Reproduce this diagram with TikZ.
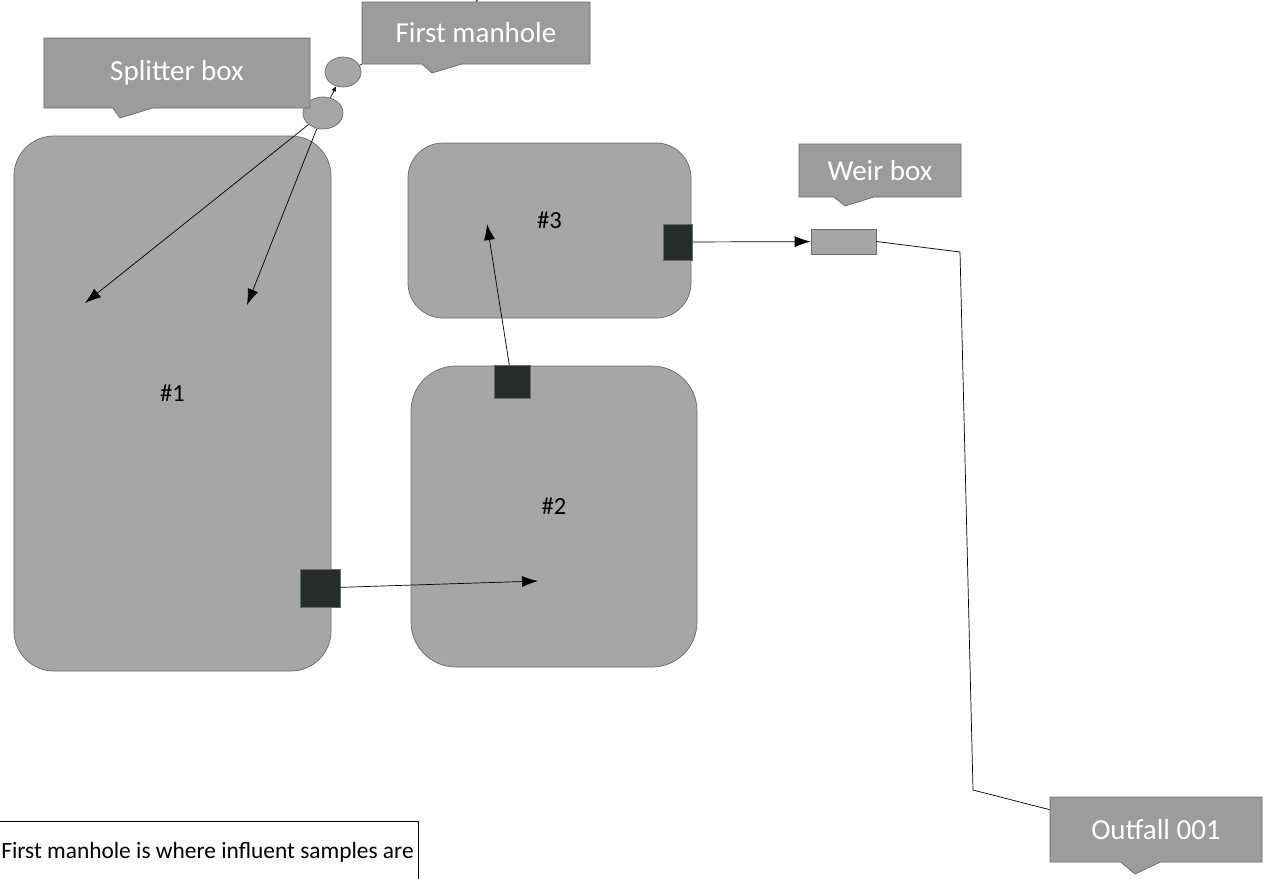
\documentclass[tikz,border=0pt]{standalone}
\usepackage{fontspec}
\setmainfont{Carlito}
\usetikzlibrary{positioning, shapes.geometric, shapes.callouts, arrows.meta}

\definecolor{pondgrey}{RGB}{166,166,166}
\definecolor{edgegrey}{RGB}{105,105,105}
\definecolor{callgrey}{RGB}{156,156,156}
\definecolor{valvedark}{RGB}{38,44,41}

\tikzset{
  pond/.style={draw=edgegrey, fill=pondgrey},
  pondtext/.style={font=\fontsize{14}{16}\selectfont, yshift=2mm},
  valve/.style={draw=edgegrey, fill=valvedark, inner sep=0pt},
  callbox/.style={rectangle callout, draw=edgegrey, fill=callgrey, text=white,
    callout pointer width=8mm, font=\fontsize{16.5}{20}\selectfont},
  pit/.style={ellipse, draw=edgegrey, fill=pondgrey, inner sep=0pt},
}

\begin{document}
\begin{tikzpicture}[x=0.2mm, y=-0.2mm, >={Latex[length=3.2mm,width=2.2mm]}]
  \useasboundingbox (0,0) rectangle (1266,878);
  \clip (0,0) rectangle (1266,878);

  \node [pond, rounded corners=8mm, minimum width=63.4mm, minimum height=107mm,
    label={[pondtext]center:\#1}] (pond1) at (172.5,403.5) {};
  \node [pond, rounded corners=7mm, minimum width=56.6mm, minimum height=35mm,
    label={[pondtext]center:\#3}] (pond3) at (549.5,230.5) {};
  \node [pond, rounded corners=9mm, minimum width=57.2mm, minimum height=60.2mm,
    label={[pondtext]center:\#2}] (pond2) at (554,516.5) {};

  \node [valve, minimum width=8mm, minimum height=7.6mm] (valve1) at (320,588) {};
  \node [valve, minimum width=7.2mm, minimum height=6.6mm] (valve2) at (512,382) {};
  \node [valve, minimum width=5.8mm, minimum height=7.2mm] (valve3) at (678,242) {};

  \node [draw=edgegrey, fill=pondgrey, minimum width=13mm, minimum height=5mm] (weir) at (843.5,241.5) {};

  \node [pit, minimum width=7.2mm, minimum height=6mm] (mhpit) at (343,72) {};
  \node [pit, minimum width=8mm, minimum height=6.4mm] (splitpit) at (323,113) {};

  \node [callbox, minimum width=53.2mm, minimum height=14mm, callout absolute pointer={(120,118)}] (splitter) at (177,73) {Splitter box};
  \node [callbox, minimum width=45.6mm, minimum height=12.4mm, callout absolute pointer={(432,73)}] (manhole) at (476,33) {First manhole};
  \node [callbox, minimum width=32.4mm, minimum height=10.6mm, callout absolute pointer={(845,206)}] (weirlabel) at (880,170.5) {Weir box};
  \node [callbox, minimum width=42.4mm, minimum height=13mm, callout absolute pointer={(1135,874)}] (outfall) at (1156,829.5) {Outfall 001};

  \coordinate (in1) at (85,303);
  \coordinate (in2) at (247,305);
  \coordinate (in3) at (538,581);
  \coordinate (in4) at (487,224);
  \coordinate (topend) at (488,-10);
  \coordinate (bendA) at (960,252);
  \coordinate (bendB) at (973,790);

  \draw [->] (splitpit) -- (in1);
  \draw [->] (splitpit) -- (in2);
  \draw [->, >={Latex[length=1mm,width=1mm]}] (splitpit) -- (mhpit);
  \draw (mhpit) -- (manhole.south west);
  \draw (manhole.north) -- (topend);
  \draw [->] (valve1) -- (in3);
  \draw [->] (valve2) -- (in4);
  \draw [->] (valve3) -- (weir);
  \draw (weir.east) -- (bendA) -- (bendB) -- ([yshift=-2.6mm]outfall.north west);

  \coordinate (noteL) at (-20,821);
  \coordinate (noteR) at (418,821);
  \coordinate (noteB) at (418,900);
  \draw (noteL) -- (noteR) -- (noteB);
  \node [anchor=base west, inner sep=0pt, font=\fontsize{13.3}{16}\selectfont] (note) at (1,858) {First manhole is where influent samples are};
\end{tikzpicture}
\end{document}
